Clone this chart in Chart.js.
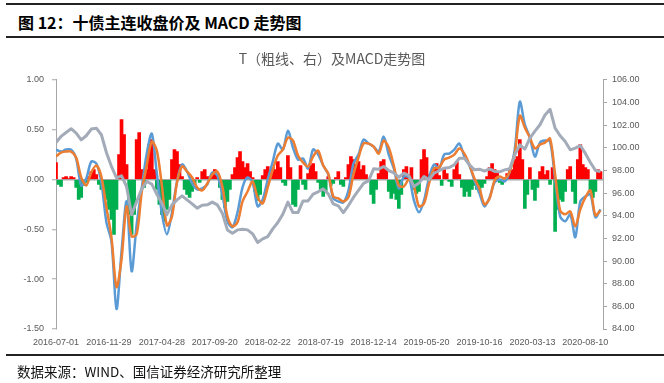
<!DOCTYPE html>
<html lang="zh-CN">
<head>
<meta charset="utf-8">
<title>T（粗线、右）及MACD走势图</title>
<script src="https://cdn.jsdelivr.net/npm/chart.js@4.4.1/dist/chart.umd.min.js"></script>
<style>
  html, body { margin: 0; padding: 0; background: #fff; }
  #wrap { position: relative; width: 664px; height: 383px; overflow: hidden; font-family: "Noto Sans CJK SC", sans-serif; }
  #macdChart { position: absolute; left: 0; top: 0; }
  .rule { position: absolute; left: 6px; right: 0; height: 0; border-top: 2px solid #222; }
  #figTitle { position: absolute; left: 18px; top: 11px; font-size: 16px; font-weight: 700; line-height: 22px; color: #000; white-space: nowrap; }
  #source { position: absolute; left: 17px; top: 361px; font-size: 13.5px; line-height: 20px; color: #111; white-space: nowrap; }
</style>
</head>
<body>
<div id="wrap">
  <div class="rule" style="top:3px"></div>
  <div id="figTitle">图 12：十债主连收盘价及 MACD 走势图</div>
  <div class="rule" style="top:36px"></div>
  <canvas id="macdChart" width="664" height="383"></canvas>
  <div class="rule" style="top:354px"></div>
  <div id="source">数据来源：WIND、国信证券经济研究所整理</div>
</div>
<script>
// date labels on the x axis, one every TICK_STEP bars
const tickLabels = ['2016-07-01', '2016-11-29', '2017-04-28', '2017-09-20', '2018-02-22', '2018-07-19',
                    '2018-12-14', '2019-05-20', '2019-10-16', '2020-03-13', '2020-08-10'];
const TICK_STEP = 21;

// MACD histogram (left axis), one bar per step
const macd = [
   0.17, -0.05, -0.07,  0.02,  0.03,  0.01,  0.03,  0.02, -0.08, -0.20,
  -0.18, -0.06, -0.03,  0.03,  0.08,  0.10,  0.05, -0.05, -0.10, -0.12,
  -0.20, -0.30, -0.40, -0.55, -0.30,  0.25,  0.60,  0.45,  0.15, -0.35,
  -0.55, -0.35,  0.40,  0.47,  0.10, -0.08,  0.10,  0.35,  0.40,  0.10,
  -0.10, -0.25, -0.35, -0.42, -0.30, -0.20,  0.20,  0.30,  0.28,  0.15,
   0.03, -0.10, -0.15, -0.18, -0.12, -0.05,  0.02, -0.03,  0.08,  0.10,
   0.03,  0.02,  0.06,  0.10,  0.04, -0.08, -0.20, -0.28, -0.22, -0.10,
   0.05,  0.12,  0.22,  0.28,  0.18,  0.12,  0.16,  0.08,  0.02, -0.12,
  -0.21, -0.15,  0.04,  0.10,  0.13,  0.08,  0.12,  0.10,  0.18,  0.12,
  -0.03, -0.06,  0.24,  0.12, -0.25, -0.27, -0.10,  0.14, -0.05, -0.10,
   0.06,  0.14,  0.16,  0.08, -0.03, -0.10, -0.17, -0.12,  0.03, -0.06,
  -0.04,  0.02,  0.08, -0.05, -0.07,  0.02,  0.15,  0.23,  0.20,  0.12,
   0.18,  0.10,  0.14,  0.05, -0.02, -0.15, -0.24, -0.10,  0.06,  0.18,
   0.20,  0.10, -0.12, -0.19, -0.14, -0.20, -0.29, -0.15,  0.10,  0.13,
   0.05,  0.12, -0.10, -0.14, -0.12,  0.20,  0.30,  0.22,  0.05,  0.03,
   0.12,  0.16,  0.04, -0.06,  0.10,  0.06, -0.02, -0.07,  0.10,  0.18,
   0.05, -0.08, -0.17, -0.12, -0.17, -0.10, -0.06, -0.10, -0.13, -0.08,
  -0.04,  0.03,  0.12,  0.16,  0.10,  0.08, -0.03, -0.05,  0.02,  0.06,
   0.09,  0.10,  0.20,  0.23,  0.40,  0.20, -0.29, -0.15,  0.12, -0.10,
  -0.21, -0.08,  0.08,  0.13,  0.05,  0.09, -0.05,  0.12, -0.52, -0.30,
  -0.20, -0.22, -0.12,  0.10,  0.13, -0.12, -0.24,  0.20,  0.35,  0.15,
   0.12,  0.10, -0.12, -0.18, -0.12,  0.10,  0.08
];

// DIF and DEA (left axis) and T close (right axis), read every second step
const dif = [
   0.30,  0.28,  0.30,  0.30,  0.21, -0.06,  0.01,  0.18,  0.16, -0.03,
  -0.43, -0.62, -1.30, -0.72, -0.22, -0.92, -0.45, -0.09,  0.26,  0.46,
   0.06, -0.34, -0.55, -0.33, -0.02,  0.15,  0.08, -0.04, -0.10, -0.09,
  -0.05,  0.07,  0.04, -0.15, -0.42, -0.48, -0.33, -0.08,  0.02, -0.03,
  -0.27, -0.20,  0.00,  0.18,  0.36,  0.30,  0.49,  0.32,  0.20,  0.21,
   0.11,  0.30,  0.25,  0.14,  0.05, -0.19, -0.22, -0.23, -0.11,  0.16,
   0.25,  0.40,  0.36,  0.33,  0.28,  0.43,  0.25,  0.11, -0.09,  0.03,
   0.02, -0.21, -0.33, -0.21,  0.02,  0.15,  0.11,  0.25,  0.26,  0.30,
   0.36,  0.23,  0.14, -0.01, -0.14, -0.27, -0.18, -0.03,  0.00, -0.02,
   0.08,  0.30,  0.78,  0.55,  0.42,  0.23,  0.37,  0.39,  0.38,  0.00,
  -0.37, -0.42, -0.35, -0.58, -0.22, -0.17, -0.15, -0.38, -0.30
];
const dea = [
   0.23,  0.27,  0.28,  0.28,  0.22,  0.02, -0.06,  0.07,  0.14,  0.03,
  -0.28, -0.58, -1.08, -0.80, -0.27, -0.57, -0.55, -0.13,  0.14,  0.38,
   0.29, -0.06, -0.46, -0.37, -0.03,  0.13,  0.08,  0.02, -0.08, -0.11,
  -0.04,  0.05,  0.08, -0.07, -0.37, -0.47, -0.43, -0.22, -0.12, -0.02,
  -0.18, -0.24, -0.08,  0.10,  0.24,  0.30,  0.42,  0.39,  0.24,  0.17,
   0.13,  0.23,  0.29,  0.14,  0.06, -0.17, -0.19, -0.22, -0.18,  0.05,
   0.22,  0.36,  0.36,  0.33,  0.26,  0.39,  0.32,  0.14, -0.06, -0.07,
   0.00, -0.07, -0.27, -0.24, -0.04,  0.11,  0.12,  0.20,  0.22,  0.25,
   0.31,  0.26,  0.15,  0.01, -0.09, -0.25, -0.19, -0.01,  0.03,  0.01,
   0.08,  0.26,  0.64,  0.52,  0.42,  0.31,  0.35,  0.37,  0.41,  0.05,
  -0.31, -0.35, -0.32, -0.47, -0.30, -0.18, -0.11, -0.36, -0.31
];
const tClose = [
  100.47, 101.00, 101.35, 101.68, 101.29, 100.70, 101.06, 101.65, 101.73, 101.15,
   99.58,  98.35,  97.35,  97.52,  96.58,  94.08,  95.26,  96.35,  97.02,  96.79,
   95.90,  95.10,  94.10,  94.96,  95.40,  95.76,  95.40,  95.05,  94.67,  94.93,
   94.96,  95.20,  94.96,  94.22,  92.75,  92.46,  92.75,  92.81,  92.75,  92.40,
   91.63,  91.96,  92.16,  92.84,  93.40,  94.14,  95.20,  94.28,  94.28,  95.31,
   95.31,  95.90,  96.11,  96.37,  95.93,  95.05,  94.87,  94.28,  94.90,  95.61,
   96.23,  96.85,  97.08,  98.14,  98.11,  98.35,  97.99,  97.79,  97.40,  97.76,
   97.55,  96.58,  96.88,  97.46,  97.17,  97.76,  97.97,  98.20,  98.26,  98.50,
   99.08,  99.08,  98.50,  98.05,  98.11,  97.94,  98.14,  97.91,  97.88,  98.05,
   98.14,  99.38, 100.26,  99.88, 100.85, 101.47, 102.03, 102.90, 103.40, 101.73,
  101.06, 100.56,  99.82,  99.97, 100.20,  99.50,  98.70,  98.00,  97.90
];

const RED = '#ff0000', GREEN = '#00b050', BLUE = '#5b9bd5', ORANGE = '#ed7d31', GRAY = '#a3abb8';
const AXIS = '#a6a6a6', TEXT = '#595959';
const tickFont = { family: 'Liberation Sans', size: 9 };

const bars = macd.map((v, i) => ({ x: i, y: v }));
const everyOther = arr => arr.map((v, j) => ({ x: j * 2, y: v }));

const ctx = document.getElementById('macdChart').getContext('2d');
new Chart(ctx, {
  type: 'bar',
  data: {
    datasets: [
      { type: 'line', label: 'T', data: everyOther(tClose), yAxisID: 'y1', borderColor: GRAY, borderWidth: 3,
        pointRadius: 0, tension: 0, borderJoinStyle: 'round', order: 1 },
      { type: 'line', label: 'DEA', data: everyOther(dea), yAxisID: 'y', borderColor: ORANGE, borderWidth: 2.5,
        pointRadius: 0, tension: 0.3, borderJoinStyle: 'round', order: 2 },
      { type: 'line', label: 'DIF', data: everyOther(dif), yAxisID: 'y', borderColor: BLUE, borderWidth: 2.5,
        pointRadius: 0, tension: 0.3, borderJoinStyle: 'round', order: 3 },
      { type: 'bar', label: 'MACD', data: bars, yAxisID: 'y',
        backgroundColor: c => (c.raw && c.raw.y < 0 ? GREEN : RED),
        borderWidth: 0, barThickness: 3, order: 4 }
    ]
  },
  options: {
    responsive: false,
    animation: false,
    events: [],
    layout: { padding: { top: 50, bottom: 30, left: 0, right: 0 } },
    plugins: {
      legend: { display: false },
      tooltip: { enabled: false },
      title: {
        display: true,
        text: 'T（粗线、右）及MACD走势图',
        color: TEXT,
        font: { family: 'Noto Sans CJK SC', size: 14, weight: 'normal' },
        padding: { top: 0, bottom: 13 }
      }
    },
    scales: {
      x: {
        type: 'linear', min: 0, max: 217, offset: false,
        grid: { display: false, drawTicks: false, offset: false },
        border: { display: false },
        afterBuildTicks: s => { s.ticks = tickLabels.map((_, k) => ({ value: k * TICK_STEP })); },
        afterFit: s => { s.height = 24; },
        ticks: { autoSkip: false, maxRotation: 0, padding: 8, color: TEXT, font: tickFont,
                 callback: v => tickLabels[v / TICK_STEP] }
      },
      y: {
        position: 'left', min: -1.5, max: 1,
        afterFit: s => { s.width = 56; },
        grid: { color: c => (c.tick && c.tick.value === 0 ? AXIS : 'rgba(0,0,0,0)'), lineWidth: 1.5,
                tickColor: AXIS, tickLength: 4, tickWidth: 1 },
        border: { display: true, color: AXIS, width: 1 },
        ticks: { stepSize: 0.5, padding: 8, color: TEXT, font: tickFont, callback: v => v.toFixed(2) }
      },
      y1: {
        position: 'right', min: 84, max: 106,
        afterFit: s => { s.width = 61; },
        grid: { drawOnChartArea: false, tickColor: AXIS, tickLength: 4 },
        border: { display: true, color: AXIS, width: 1 },
        ticks: { stepSize: 2, padding: 5, color: TEXT, font: tickFont, callback: v => v.toFixed(2) }
      }
    }
  }
});
</script>
</body>
</html>
